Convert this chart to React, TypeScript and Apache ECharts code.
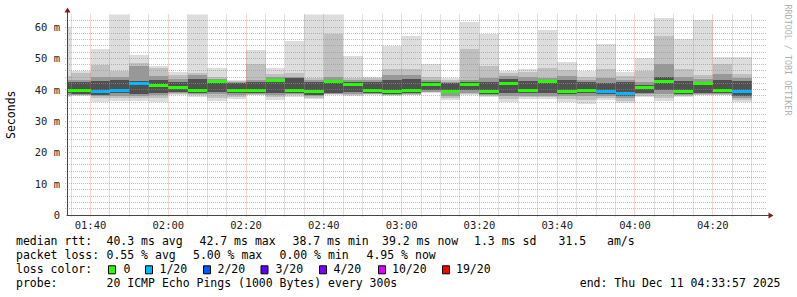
import React, { useEffect, useRef } from "react";
import * as echarts from "echarts";

// ---- data (ms) ----
const binStarts = [
  "01:30", "01:35", "01:40", "01:45", "01:50", "01:55", "02:00", "02:05", "02:10",
  "02:15", "02:20", "02:25", "02:30", "02:35", "02:40", "02:45", "02:50", "02:55",
  "03:00", "03:05", "03:10", "03:15", "03:20", "03:25", "03:30", "03:35", "03:40",
  "03:45", "03:50", "03:55", "04:00", "04:05", "04:10", "04:15", "04:20", "04:25",
];
const rttMax = [60.0, 46.1, 52.9, 65.0, 51.1, 47.6, 45.7, 65.0, 46.8, 43.1, 52.7, 46.8, 55.6, 65.0, 65.0, 50.7, 44.1, 54.0, 57.1, 48.1, 43.6, 61.7, 57.8, 46.1, 46.6, 59.0, 48.8, 46.1, 54.6, 45.7, 50.2, 62.8, 56.2, 62.2, 50.3, 50.3];
const rttHi2 = [44.5, 45.2, 47.9, 46.0, 48.4, 46.8, 44.6, 45.2, 44.0, 42.9, 48.2, 45.0, 45.2, 43.6, 57.7, 43.6, 43.6, 46.6, 46.5, 43.9, 43.1, 53.0, 47.7, 45.3, 45.5, 47.0, 46.3, 43.9, 46.6, 44.5, 46.0, 57.1, 46.6, 44.8, 48.2, 45.0];
const rttHi3 = [43.2, 43.1, 44.1, 44.0, 47.5, 44.5, 43.5, 44.6, 43.4, 42.5, 43.2, 44.0, 44.2, 43.0, 44.0, 43.0, 43.0, 44.8, 44.8, 43.0, 42.6, 43.2, 43.6, 44.5, 44.0, 43.6, 44.5, 43.0, 43.8, 43.0, 42.4, 48.1, 44.0, 43.5, 45.0, 43.8];
const rttHi4 = [42.3, 42.5, 42.7, 43.0, 42.9, 43.2, 42.5, 43.5, 42.9, 42.0, 42.4, 43.3, 43.8, 42.3, 43.2, 42.4, 42.4, 43.0, 43.5, 42.5, 42.0, 42.6, 42.5, 43.3, 42.8, 43.0, 43.0, 42.3, 42.0, 42.3, 41.5, 44.0, 42.8, 42.6, 43.0, 42.8];
const rttMedian = [39.6, 39.6, 39.4, 39.8, 41.9, 41.2, 40.6, 39.9, 42.6, 39.7, 39.7, 42.9, 39.7, 39.3, 42.7, 41.8, 39.7, 39.3, 39.7, 41.8, 39.5, 41.8, 39.3, 42.0, 39.8, 42.6, 39.3, 39.8, 39.5, 38.8, 40.6, 42.6, 39.4, 42.0, 39.9, 39.4];
const rttLo4 = [38.8, 38.7, 38.4, 38.8, 38.7, 38.8, 39.2, 39.0, 39.3, 38.9, 38.9, 39.0, 39.0, 38.3, 39.0, 39.2, 39.0, 38.7, 38.9, 39.8, 38.8, 39.8, 38.6, 38.8, 38.8, 39.0, 38.6, 38.8, 38.6, 38.0, 39.0, 40.0, 38.6, 39.0, 39.0, 38.0];
const rttLo3 = [38.4, 38.4, 37.9, 38.0, 38.1, 38.2, 38.8, 38.6, 38.6, 38.4, 38.6, 38.4, 38.6, 37.9, 38.7, 38.7, 38.7, 38.4, 38.6, 39.4, 38.0, 38.9, 38.2, 37.9, 38.1, 38.1, 37.9, 38.0, 38.0, 37.2, 38.5, 38.5, 38.2, 38.6, 38.6, 37.4];
const rttLo2 = [38.1, 38.2, 37.4, 37.4, 37.5, 37.5, 38.5, 38.2, 37.5, 37.8, 38.4, 37.6, 38.2, 37.5, 38.5, 38.3, 38.5, 38.2, 38.4, 39.2, 37.3, 38.5, 38.0, 37.0, 37.6, 37.6, 37.0, 36.7, 37.4, 36.4, 38.1, 37.4, 38.0, 38.4, 38.4, 36.8];
const rttMin = [37.7, 38.0, 36.2, 36.4, 36.4, 36.2, 38.3, 37.8, 36.4, 37.1, 38.3, 36.8, 37.8, 37.1, 38.3, 38.0, 38.3, 38.0, 38.3, 39.0, 36.7, 38.3, 37.8, 36.2, 37.1, 37.1, 36.2, 35.4, 36.8, 35.6, 37.8, 36.4, 37.8, 38.3, 38.3, 36.2];
const lostPings = [0, 0, 1, 1, 1, 0, 0, 0, 0, 0, 0, 0, 0, 0, 0, 0, 0, 0, 0, 0, 0, 0, 0, 0, 0, 0, 0, 0, 1, 1, 0, 0, 0, 0, 0, 1];
const stepMinutes = 5;
const axisStart = "01:33:57";
const axisEnd = "04:33:57";
const yMax = 64;

const lossLevels = [0, 1, 2, 3, 4, 10, 19];
const lossLabels = ["0", "1/20", "2/20", "3/20", "4/20", "10/20", "19/20"];
const lossColors = ["#26ff00", "#00b8ff", "#0059ff", "#5e00ff", "#7e00ff", "#dd00ff", "#ff0000"];

const rttStats = ["median rtt:", "40.3 ms avg", "42.7 ms max", "38.7 ms min", "39.2 ms now", "1.3 ms sd", "31.5", "am/s"];
const lossStats = ["packet loss:", "0.55 % avg", "5.00 % max", "0.00 % min", "4.95 % now"];
const probeLine = ["probe:", "20 ICMP Echo Pings (1000 Bytes) every 300s"];
const endLabel = "end: Thu Dec 11 04:33:57 2025";

// ---- layout ----
const rttStatsX = [16, 106.5, 199.5, 292.5, 382, 474, 558.5, 607];
const lossStatsX = [16, 106.5, 193, 279.5, 366.5];
const lossBoxX = [108.5, 145.5, 203.5, 261, 319.5, 378.5, 442.5];
const lossLabelX = [123.5, 159.5, 217.5, 275.5, 333.5, 392, 456];
const rowY = [241, 255, 269.3, 283.3];

const MONO = "DejaVu Sans Mono";

function toMinutes(s: string): number {
  const p = s.split(":").map(Number);
  return p[0] * 60 + p[1] + (p[2] || 0) / 60;
}
function fmtHM(m: number): string {
  const h = Math.floor(m / 60);
  const mm = Math.round(m - h * 60);
  return String(h).padStart(2, "0") + ":" + String(mm).padStart(2, "0");
}
function lossColor(n: number): string {
  let c = lossColors[0];
  for (let i = 0; i < lossLevels.length; i++) if (n >= lossLevels[i]) c = lossColors[i];
  return c;
}

const BAND_COLORS = ["#dddddd", "#c0c0c0", "#989898", "#505050"];

export default function App() {
  const ref = useRef<HTMLDivElement>(null);
  useEffect(() => {
    if (!ref.current) return;
    const chart = echarts.init(ref.current, undefined, { renderer: "svg" });
    const xMin = toMinutes(axisStart);
    const xMax = toMinutes(axisEnd);

    const smokeData = binStarts.map((t, i) => {
      const s = toMinutes(t);
      return [s, s + stepMinutes, rttMin[i], rttMax[i], rttLo2[i], rttHi2[i], rttLo3[i], rttHi3[i], rttLo4[i], rttHi4[i], rttMedian[i], lostPings[i]];
    });

    // grid lines: minor every 5 min / 2 ms, major every 20 min / 10 ms
    const gridData: number[][] = [];
    for (let m = Math.ceil(xMin / 5) * 5; m < xMax; m += 5) gridData.push([0, m, m % 20 === 0 ? 1 : 0]);
    for (let v = 2; v < yMax; v += 2) gridData.push([1, v, v % 10 === 0 ? 1 : 0]);

    const graphic: any[] = [];
    const txt = (text: string, x: number, y: number, extra: any = {}) => ({
      type: "text", x, y, silent: true,
      style: { text, fill: "#000", font: `11.5px '${MONO}'`, align: "left", verticalAlign: "middle", ...extra },
    });
    rttStats.forEach((s, i) => graphic.push(txt(s, rttStatsX[i], rowY[0])));
    lossStats.forEach((s, i) => graphic.push(txt(s, lossStatsX[i], rowY[1])));
    graphic.push(txt("loss color:", 16, rowY[2]));
    lossLabels.forEach((s, i) => {
      graphic.push({ type: "rect", silent: true, shape: { x: lossBoxX[i], y: rowY[2] - 3.5, width: 7, height: 8 }, style: { fill: lossColors[i], stroke: "#000", lineWidth: 1 } });
      graphic.push(txt(s, lossLabelX[i], rowY[2]));
    });
    graphic.push(txt(probeLine[0], 16, rowY[3]));
    graphic.push(txt(probeLine[1], 106.5, rowY[3]));
    graphic.push(txt(endLabel, 780.5, rowY[3], { align: "right" }));
    graphic.push({
      type: "text", x: 788, y: 60, rotation: -Math.PI / 2, silent: true,
      style: { text: "RRDTOOL / TOBI OETIKER", fill: "#b0b0b0", font: `8.4px '${MONO}'`, align: "center", verticalAlign: "middle" },
    });
    // axis extensions & arrows
    graphic.push({ type: "line", silent: true, shape: { x1: 67.5, y1: 15, x2: 67.5, y2: 10 }, style: { stroke: "#444", lineWidth: 1 } });
    graphic.push({ type: "polygon", silent: true, shape: { points: [[64.5, 12.5], [70.5, 12.5], [67.5, 7.5]] }, style: { fill: "#801f1f" } });
    graphic.push({ type: "line", silent: true, shape: { x1: 767, y1: 215.5, x2: 770, y2: 215.5 }, style: { stroke: "#444", lineWidth: 1 } });
    graphic.push({ type: "polygon", silent: true, shape: { points: [[768.5, 212.5], [768.5, 218.5], [773.5, 215.5]] }, style: { fill: "#801f1f" } });

    const option: any = {
      animation: false,
      backgroundColor: "#ffffff",
      grid: { left: 67, right: 30, top: 14.5, bottom: 82, containLabel: false, outerBoundsMode: "none" },
      xAxis: {
        type: "value", min: xMin, max: xMax, splitNumber: 9, minInterval: 20, maxInterval: 20, z: 5,
        axisLine: { show: true, lineStyle: { color: "#444", width: 1 } },
        axisTick: { show: false },
        splitLine: { show: false },
        axisLabel: {
          showMinLabel: false, showMaxLabel: false, margin: 4, color: "#222",
          fontFamily: MONO, fontSize: 10.5, formatter: (v: number) => fmtHM(v),
        },
      },
      yAxis: {
        type: "value", min: 0, max: yMax, interval: 10, z: 5,
        name: "Seconds", nameLocation: "middle", nameRotate: 90, nameGap: 50,
        nameTextStyle: { fontFamily: MONO, fontSize: 11.5, color: "#000" },
        axisLine: { show: true, lineStyle: { color: "#444", width: 1 } },
        axisTick: { show: false },
        splitLine: { show: false },
        axisLabel: {
          showMaxLabel: false, margin: 7, color: "#222", fontFamily: MONO, fontSize: 10.5,
          formatter: (v: number) => (v === 0 ? "0" : `${v} m`),
        },
      },
      series: [
        {
          type: "custom", name: "smoke", z: 2,
          encode: { x: [0, 1], y: [2, 3] },
          data: smokeData,
          renderItem: (params: any, api: any) => {
            const cs = params.coordSys;
            const t0 = api.value(0), t1 = api.value(1);
            const xa = Math.max(cs.x, Math.round(api.coord([t0, 0])[0]));
            const xb = Math.min(cs.x + cs.width, Math.round(api.coord([t1, 0])[0]));
            if (xb <= xa) return null;
            const children: any[] = [];
            for (let b = 0; b < 4; b++) {
              const lo = api.value(2 + b * 2), hi = api.value(3 + b * 2);
              const yTop = Math.max(cs.y, Math.round(api.coord([t0, hi])[1]));
              const yBot = Math.round(api.coord([t0, lo])[1]);
              children.push({ type: "rect", shape: { x: xa, y: yTop, width: xb - xa, height: yBot - yTop }, style: { fill: BAND_COLORS[b] } });
            }
            const ym = api.coord([t0, api.value(10)])[1];
            children.push({ type: "rect", shape: { x: xa, y: Math.round(ym - 1.5), width: xb - xa, height: 3 }, style: { fill: lossColor(api.value(11)) } });
            return { type: "group", children };
          },
        },
        {
          type: "custom", name: "grid", z: 4, silent: true,
          data: gridData,
          renderItem: (params: any, api: any) => {
            const cs = params.coordSys;
            const kind = api.value(0), v = api.value(1), major = api.value(2);
            const stroke = major ? "rgba(222,100,100,0.55)" : "rgba(150,150,150,0.6)";
            if (kind === 0) {
              const x = Math.floor(api.coord([v, 0])[0]) + 0.5;
              return { type: "line", shape: { x1: x, y1: cs.y, x2: x, y2: cs.y + cs.height + 2 }, style: { stroke, lineWidth: 1, lineDash: [1, 1] } };
            }
            const y = Math.floor(api.coord([xMin, v])[1]) + 0.5;
            return { type: "line", shape: { x1: cs.x - 2, y1: y, x2: cs.x + cs.width, y2: y }, style: { stroke, lineWidth: 1, lineDash: [1, 1] } };
          },
        },
      ],
      graphic,
    };
    chart.setOption(option);
    return () => chart.dispose();
  }, []);
  return <div ref={ref} style={{ position: "absolute", left: 0, top: 0, width: 797, height: 297, background: "#fff" }} />;
}
